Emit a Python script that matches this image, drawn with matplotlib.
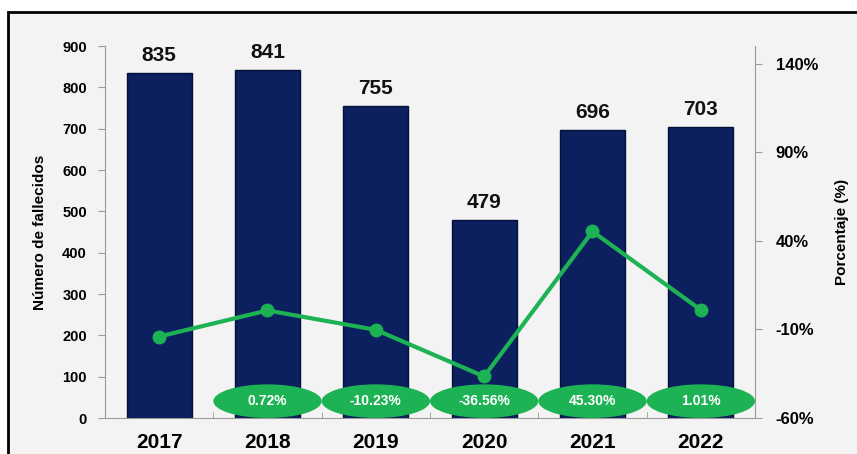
import matplotlib.pyplot as plt
import numpy as np
from matplotlib.patches import Ellipse, Rectangle

plt.rcParams['font.family'] = ['Liberation Sans', 'DejaVu Sans']
plt.rcParams['font.weight'] = 'bold'

# datos
anios = ['2017', '2018', '2019', '2020', '2021', '2022']
fallecidos = [835, 841, 755, 479, 696, 703]
variacion = [-14.0, 0.72, -10.23, -36.56, 45.30, 1.01]
etiquetas_var = ['', '0.72%', '-10.23%', '-36.56%', '45.30%', '1.01%']

azul = '#0c1f5e'
verde = '#1db254'
gris = '#9a9a9a'

fig = plt.figure(figsize=(8.57, 4.54), dpi=100)
fig.patch.set_facecolor('white')

# marco exterior
fig.patches.append(Rectangle((8/857, -0.05), 1.0, 1 - 12/454 + 0.05,
                             transform=fig.transFigure, facecolor='#f3f3f3',
                             edgecolor='black', linewidth=2, zorder=-1))

ax = fig.add_axes([105/857, 1 - 418/454, 650/857, 372/454])
ax.set_facecolor('none')
x = np.arange(len(anios))

ax.bar(x, fallecidos, width=0.6, color=azul, edgecolor='#05103a', linewidth=1, zorder=2)
for xi, v in zip(x, fallecidos):
    ax.annotate(str(v), (xi, v), xytext=(0, 6), textcoords='offset points',
                ha='center', va='bottom', fontsize=15, fontweight='bold', color='#111111')

ax.set_xlim(-0.5, len(anios) - 0.5)
ax.set_ylim(0, 900)
ax.set_yticks(range(0, 901, 100))
ax.set_xticks(x)
ax.set_xticklabels(anios, fontsize=15, fontweight='bold')
ax.set_xticks(np.arange(-0.5, len(anios)), minor=True)
ax.tick_params(axis='x', which='major', length=0, pad=11)
ax.tick_params(axis='x', which='minor', length=4, color=gris, direction='in')
ax.tick_params(axis='y', labelsize=10.5, length=5, color=gris, pad=8)
for s in ['top', 'right']:
    ax.spines[s].set_visible(False)
ax.spines['left'].set_color(gris)
ax.spines['bottom'].set_color(gris)
ax.set_ylabel('Número de fallecidos', fontsize=11, fontweight='bold', labelpad=11)

# eje secundario
ax2 = ax.twinx()
ax2.plot(x, variacion, color=verde, linewidth=3, marker='o', markersize=9, zorder=5)
ax2.set_ylim(-60, 150)
ax2.set_yticks([-60, -10, 40, 90, 140])
ax2.set_yticklabels(['-60%', '-10%', '40%', '90%', '140%'])
ax2.tick_params(axis='y', labelsize=12, length=5, color=gris, pad=10)
for s in ['top', 'left', 'bottom']:
    ax2.spines[s].set_visible(False)
ax2.spines['right'].set_color(gris)
ax2.set_ylabel('Porcentaje (%)', fontsize=11, fontweight='bold', labelpad=12)

# etiquetas de variación en elipses
for xi, t in zip(x, etiquetas_var):
    if not t:
        continue
    ax2.add_patch(Ellipse((xi, -50.5), 1.0, 19, facecolor=verde, edgecolor='none', zorder=6))
    ax2.text(xi, -50.5, t, ha='center', va='center', fontsize=10, fontweight='bold',
             color='white', zorder=7)

fig.savefig('out.png', dpi=100)
